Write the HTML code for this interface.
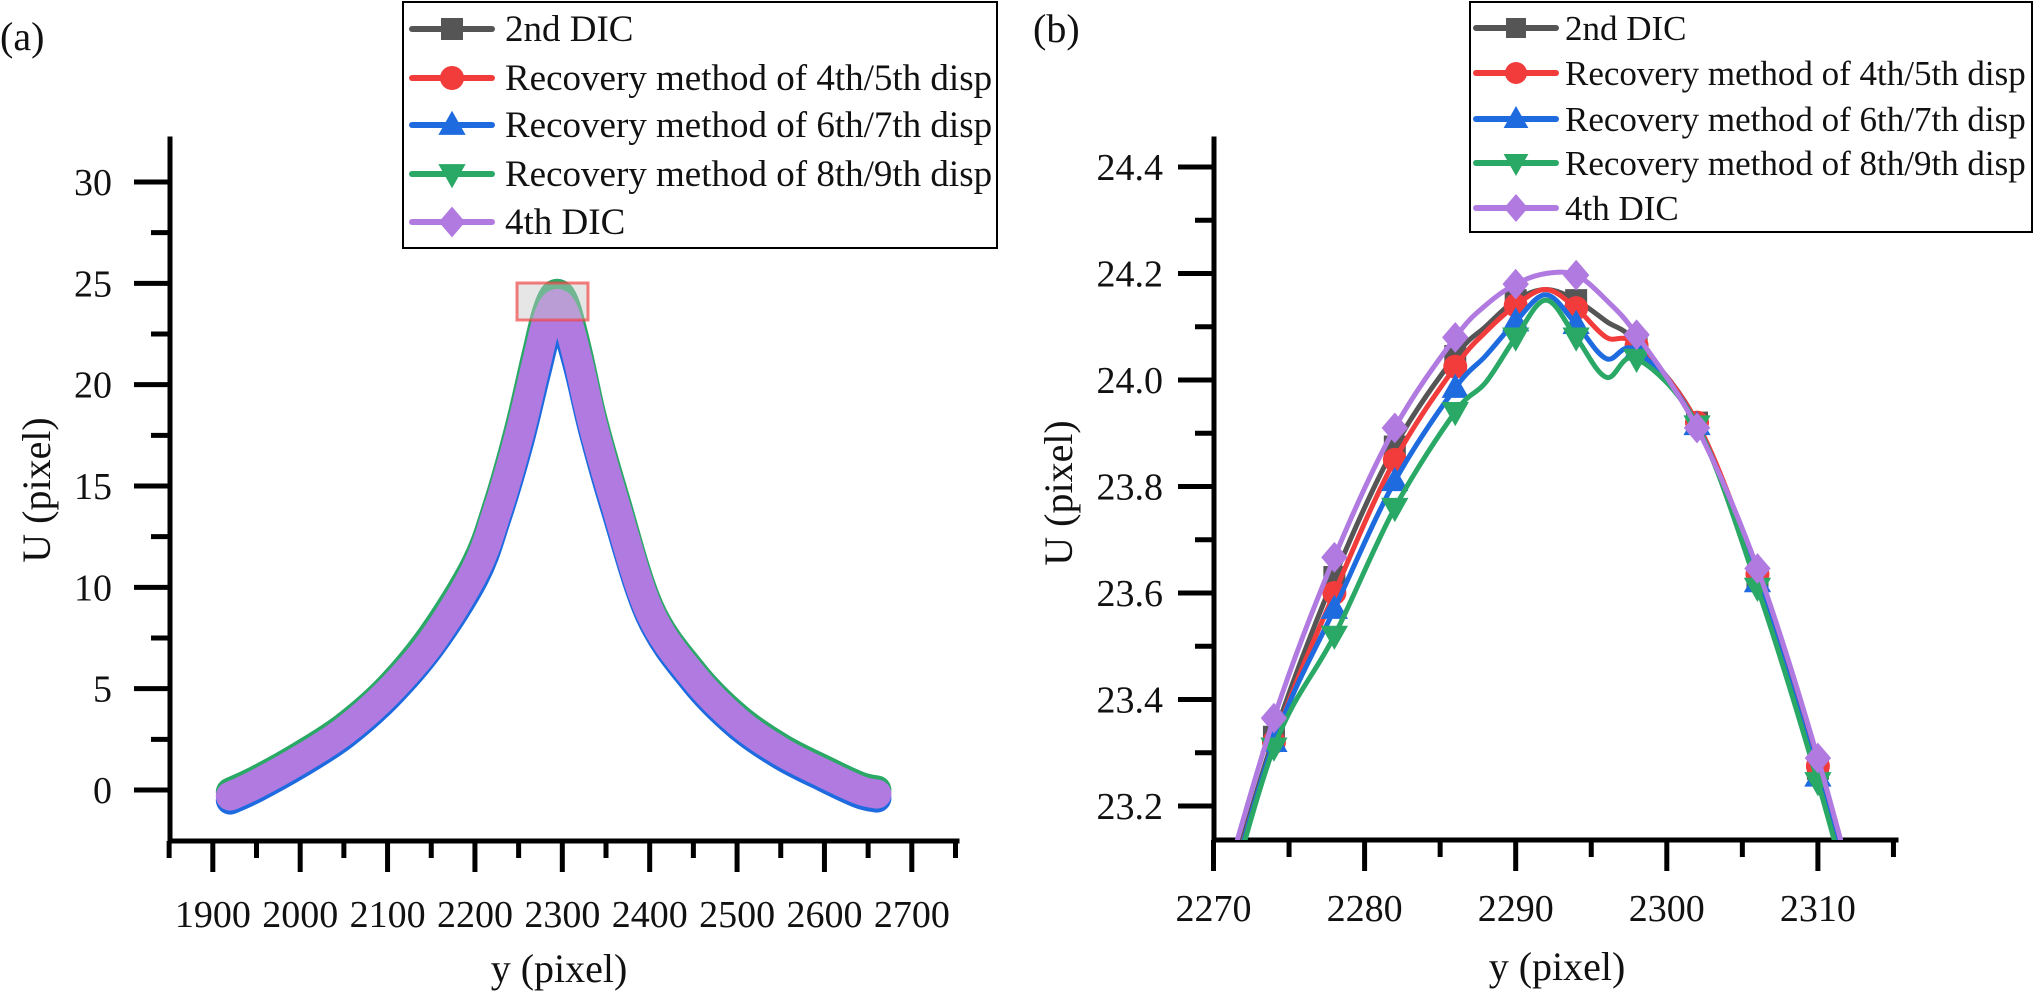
<!DOCTYPE html>
<html><head><meta charset="utf-8"><style>
html,body{margin:0;padding:0;background:#fff;}
svg{display:block;font-family:"Liberation Serif","Times New Roman",serif;}
text{font-family:"Liberation Serif","Times New Roman",serif;}
</style></head><body>
<svg id="fig" width="2034" height="991" viewBox="0 0 2034 991" xmlns="http://www.w3.org/2000/svg">
<defs>
<clipPath id="clipA"><rect x="170" y="100" width="790" height="741"/></clipPath>
<clipPath id="clipB"><rect x="1214" y="139" width="683" height="701"/></clipPath>
</defs>
<g id="panelA"></g>
<g id="panelB"></g>
</svg>
<script>
// ---------- Panel (a) data ----------
const aX = [1920,1950,2000,2050,2100,2150,2200,2225,2250,2270,2282,2293,2304,2318,2335,2360,2400,2450,2500,2550,2600,2640,2660];
const aPurple = [-0.3,0.3,1.5,2.9,4.8,7.3,10.8,13.7,17.4,21.0,23.1,24.0,23.4,21.2,18.0,14.2,8.8,5.6,3.4,1.9,0.8,0.0,-0.2];
const aGreen  = [-0.1,0.5,1.7,3.1,5.0,7.6,11.1,14.0,17.8,21.5,23.6,24.5,23.9,21.6,18.3,14.5,9.0,5.8,3.6,2.1,1.0,0.2,0.0];
const aBlue   = [-0.5,0.1,1.3,2.7,4.6,7.1,10.5,13.4,17.0,20.5,22.5,23.2,22.8,20.8,17.7,13.9,8.6,5.4,3.2,1.7,0.6,-0.2,-0.4];
const aYTicks = [0,5,10,15,20,25,30];
const aXTicks = [1900,2000,2100,2200,2300,2400,2500,2600,2700];
// ---------- Panel (b) data ----------
const bX = [2270,2274,2278,2282,2286,2288,2290,2292,2294,2296,2298,2302,2306,2310,2314];
const b2nd   = [22.95,23.33,23.63,23.875,24.045,24.10,24.15,24.17,24.15,24.11,24.07,23.92,23.63,23.27,22.85];
const bRed   = [22.94,23.32,23.60,23.85,24.025,24.09,24.14,24.17,24.135,24.08,24.065,23.92,23.635,23.275,22.85];
const bBlue  = [22.93,23.32,23.57,23.81,23.985,24.045,24.11,24.16,24.105,24.04,24.055,23.915,23.62,23.255,22.84];
const bGreen = [22.92,23.31,23.52,23.76,23.94,23.995,24.08,24.15,24.08,24.005,24.04,23.915,23.61,23.245,22.83];
const b4th   = [22.98,23.365,23.667,23.91,24.08,24.14,24.18,24.20,24.197,24.15,24.085,23.91,23.646,23.29,22.87];
const bYTicks = [23.2,23.4,23.6,23.8,24.0,24.2,24.4];
const bXTicks = [2270,2280,2290,2300,2310];
const legendLabels = ["2nd DIC","Recovery method of 4th/5th disp","Recovery method of 6th/7th disp","Recovery method of 8th/9th disp","4th DIC"];

const NS="http://www.w3.org/2000/svg";
const FONT='"Liberation Serif","Times New Roman",serif';
const COL={k:"#555555",r:"#f23c3c",b:"#1e6be0",g:"#2aa866",p:"#b07ae0"};
function mk(parent,tag,attrs,text){const e=document.createElementNS(NS,tag);for(const k in attrs)e.setAttribute(k,attrs[k]);if(tag==="text")e.setAttribute("font-family",FONT);if(text!==undefined)e.textContent=text;parent.appendChild(e);return e;}

const axA={x0:170,x1:957,y0:841,y1:139};
axA.px=v=>170+(v-1851)*(912-213)/800;
axA.py=v=>790-v*(790-182)/30;
const axB={x0:1214,x1:1896,y0:840,y1:139};
axB.px=v=>1213.5+(v-2270)*15.11;
axB.py=v=>167+(24.4-v)*532.5;

function smoothPath(xs,ys,fx,fy){
  const P=xs.map((x,i)=>[fx(x),fy(ys[i])]);
  let d=`M${P[0][0].toFixed(1)},${P[0][1].toFixed(1)}`;
  for(let i=0;i<P.length-1;i++){
    const p0=P[Math.max(0,i-1)],p1=P[i],p2=P[i+1],p3=P[Math.min(P.length-1,i+2)];
    const c1=[p1[0]+(p2[0]-p0[0])/6,p1[1]+(p2[1]-p0[1])/6];
    const c2=[p2[0]-(p3[0]-p1[0])/6,p2[1]-(p3[1]-p1[1])/6];
    d+=`C${c1[0].toFixed(1)},${c1[1].toFixed(1)} ${c2[0].toFixed(1)},${c2[1].toFixed(1)} ${p2[0].toFixed(1)},${p2[1].toFixed(1)}`;
  }
  return d;
}
function marker(g,type,x,y,s,col){
  let e;
  if(type==="sq"){e=mk(g,"rect",{x:x-s/2,y:y-s/2,width:s,height:s,fill:col});}
  else if(type==="ci"){e=mk(g,"circle",{cx:x,cy:y,r:s/2+1,fill:col});}
  else if(type==="up"){e=mk(g,"polygon",{points:`${x},${y-s*0.65} ${x-s*0.62},${y+s*0.45} ${x+s*0.62},${y+s*0.45}`,fill:col});}
  else if(type==="dn"){e=mk(g,"polygon",{points:`${x},${y+s*0.65} ${x-s*0.62},${y-s*0.45} ${x+s*0.62},${y-s*0.45}`,fill:col});}
  else {e=mk(g,"polygon",{points:`${x},${y-s*0.7} ${x+s*0.6},${y} ${x},${y+s*0.7} ${x-s*0.6},${y}`,fill:col});}
  return e;
}
function axes(g,ax,xt,xminor,fx,yt,yminor,fy,xfmt,yfmt,labelYBase,yLabelRight){
  const axg=mk(g,"g",{});
  
  
  mk(axg,"line",{x1:ax.x0,y1:ax.y0,x2:ax.x1,y2:ax.y0,stroke:"#000","stroke-width":5,"stroke-linecap":"square"});
  mk(axg,"line",{x1:ax.x0,y1:ax.y0,x2:ax.x0,y2:ax.y1,stroke:"#000","stroke-width":5,"stroke-linecap":"square"});
  xt.forEach(v=>{const x=fx(v);mk(axg,"line",{x1:x,y1:ax.y0,x2:x,y2:ax.y0+31,stroke:"#000","stroke-width":5});
    const t=mk(axg,"text",{x:x,y:labelYBase,"font-size":38,"text-anchor":"middle",fill:"#111"},xfmt(v));
    
    });
  xminor.forEach(v=>{const x=fx(v);mk(axg,"line",{x1:x,y1:ax.y0,x2:x,y2:ax.y0+17,stroke:"#000","stroke-width":5});});
  yt.forEach(v=>{const y=fy(v);mk(axg,"line",{x1:ax.x0-36,y1:y,x2:ax.x0,y2:y,stroke:"#000","stroke-width":5});
    const t=mk(axg,"text",{x:yLabelRight,y:y+13,"font-size":38,"text-anchor":"end",fill:"#111"},yfmt(v));
    
    });
  yminor.forEach(v=>{const y=fy(v);mk(axg,"line",{x1:ax.x0-19,y1:y,x2:ax.x0,y2:y,stroke:"#000","stroke-width":5});});
}
function legend(g,x,y,w,h,rowY,lineX0,lineX1,textX,fs,ms){
  const lg=mk(g,"g",{});
  
  
  mk(lg,"rect",{x:x,y:y,width:w,height:h,fill:"#fff",stroke:"#000","stroke-width":2});
  const cols=[COL.k,COL.r,COL.b,COL.g,COL.p],types=["sq","ci","up","dn","di"];
  legendLabels.forEach((lab,i)=>{
    const ry=rowY[i];
    const e=mk(lg,"g",{});
    
    
    mk(e,"line",{x1:lineX0,y1:ry,x2:lineX1,y2:ry,stroke:cols[i],"stroke-width":6,"stroke-linecap":"round"});
    marker(e,types[i],(lineX0+lineX1)/2,ry,ms,cols[i]);
    mk(e,"text",{x:textX,y:ry+12,"font-size":fs,fill:"#111"},lab);
  });
}

// ----- Panel A -----
const gA=document.getElementById("panelA");
const la=mk(gA,"text",{x:0,y:50,"font-size":40,fill:"#111"},"(a)");


axes(gA,axA,aXTicks,[1850,1950,2050,2150,2250,2350,2450,2550,2650,2750],axA.px,
  aYTicks,[2.5,7.5,12.5,17.5,22.5,27.5],axA.py,v=>String(v),v=>String(v),927,112);
const sA=mk(gA,"g",{"clip-path":"url(#clipA)"});


[[aGreen,COL.g,"series-8th-9th"],[aBlue,COL.b,"series-6th-7th"],[aPurple,COL.p,"series-4th-dic"]].forEach(([arr,c,n])=>{
  const p=mk(sA,"path",{d:smoothPath(aX,arr,axA.px,axA.py),fill:"none",stroke:c,"stroke-width":29,"stroke-linecap":"round","stroke-linejoin":"round"});
  
  
});
const hl=mk(gA,"rect",{x:517,y:283,width:71,height:37,fill:"rgba(200,200,200,0.45)",stroke:"rgba(240,70,70,0.7)","stroke-width":3});


const ytA=mk(gA,"text",{x:0,y:0,"font-size":40,"text-anchor":"middle",fill:"#111",transform:"translate(50,490) rotate(-90)"},"U (pixel)");


const xtA=mk(gA,"text",{x:559,y:982,"font-size":40,"text-anchor":"middle",fill:"#111"},"y (pixel)");


legend(gA,403,2,594,246,[29,78,125,174,222],412,492,505,37,22);

// ----- Panel B -----
const gB=document.getElementById("panelB");
const lb=mk(gB,"text",{x:1033,y:42,"font-size":40,fill:"#111"},"(b)");


axes(gB,axB,bXTicks,[2275,2285,2295,2305,2315],axB.px,
  bYTicks,[23.3,23.5,23.7,23.9,24.1,24.3],axB.py,v=>String(v),v=>v.toFixed(1),921,1163);
const sB=mk(gB,"g",{"clip-path":"url(#clipB)"});


[[b2nd,COL.k,"sq","series-2nd-dic"],[bRed,COL.r,"ci","series-4th-5th"],[bBlue,COL.b,"up","series-6th-7th"],[bGreen,COL.g,"dn","series-8th-9th"],[b4th,COL.p,"di","series-4th-dic"]].forEach(([arr,c,t,n])=>{
  const g=mk(sB,"g",{});
  
  
  mk(g,"path",{d:smoothPath(bX,arr,axB.px,axB.py),fill:"none",stroke:c,"stroke-width":5,"stroke-linejoin":"round"});
  bX.forEach((x,i)=>{ if((x-2270)%4===0 && x>2270 && x<2314){
    const m=marker(g,t,axB.px(x),axB.py(arr[i]),22,c);
    
    
  }});
});
const ytB=mk(gB,"text",{x:0,y:0,"font-size":40,"text-anchor":"middle",fill:"#111",transform:"translate(1072,493) rotate(-90)"},"U (pixel)");


const xtB=mk(gB,"text",{x:1557,y:980,"font-size":40,"text-anchor":"middle",fill:"#111"},"y (pixel)");


legend(gB,1470,2,562,230,[28,73,119,163,208],1476,1556,1565,35,20);
</script>
</body></html>
